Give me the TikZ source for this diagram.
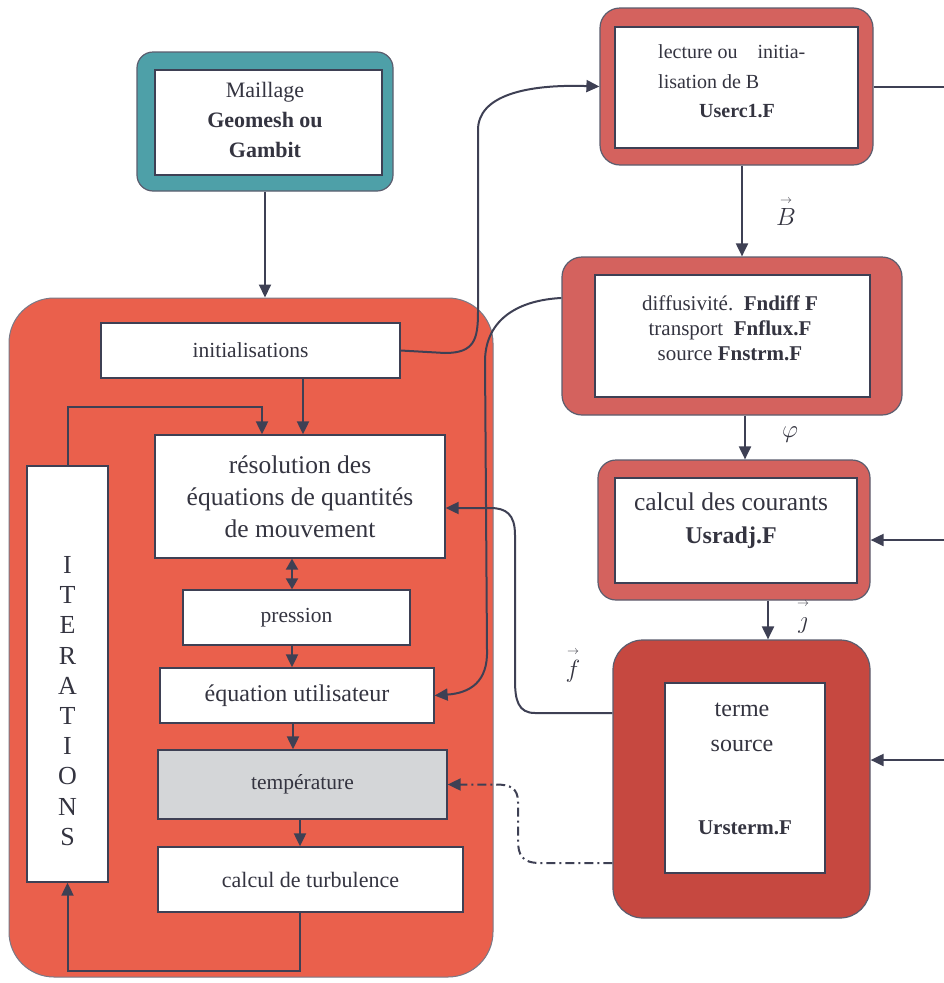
\documentclass[tikz,border=0pt]{standalone}
\usepackage{amsmath}
\usepackage{fontspec}
\setmainfont{Liberation Serif}
\usetikzlibrary{arrows.meta,calc}
\definecolor{tealc}{RGB}{78,160,168}
\definecolor{mainred}{RGB}{234,96,76}
\definecolor{framered}{RGB}{212,98,94}
\definecolor{darkred}{RGB}{198,72,64}
\definecolor{lnc}{RGB}{62,64,84}
\definecolor{tempgray}{RGB}{212,214,216}
\definecolor{txt}{RGB}{52,52,64}
\tikzset{
  wbox/.style={draw=lnc, line width=1.3pt, fill=white, inner sep=0pt, text=txt},
  frm/.style={draw=lnc!85, line width=1.2pt, rounded corners=16pt, inner sep=0pt},
  conn/.style={draw=lnc, line width=2pt},
  arr/.style={conn, -{Triangle[length=13pt,width=12pt]}},
  dblarr/.style={conn, {Triangle[length=11pt,width=12pt]}-{Triangle[length=11pt,width=12pt]}},
  dashdotline/.style={conn, dash pattern=on 9pt off 4pt on 2pt off 4pt, -{Triangle[length=13pt,width=12pt]}},
  lbl/.style={inner sep=0pt, text=txt},
}
\newcommand{\fs}[2]{\fontsize{#1}{#2}\selectfont}
\newcommand{\vecl}[1]{\overset{\scriptscriptstyle\rightarrow}{#1}}
\begin{document}
\begin{tikzpicture}[x=1pt,y=-1pt]
\useasboundingbox (0,0) rectangle (943,983);
\fill[white] (0,0) rectangle (943,983);

% Maillage
\node[frm, fill=tealc, minimum width=256pt, minimum height=139pt] (maillF) at (265,121.5) {};
\node[wbox, minimum width=227pt, minimum height=105pt] (maill) at (268.5,122.5) {};
\node[lbl, align=center, font=\fs{22}{30}] (mailltxt) at (265,120) {Maillage\\\textbf{Geomesh ou}\\\textbf{Gambit}};

% main box
\node[draw=lnc!70, line width=1pt, fill=mainred, rounded corners=45pt, minimum width=484pt, minimum height=679pt, inner sep=0pt] (mainbox) at (251,637.5) {};

\node[wbox, minimum width=299pt, minimum height=55pt, font=\fs{21.5}{24}] (init) at (250.5,350.5) {initialisations};
\node[wbox, minimum width=290pt, minimum height=123pt, align=center, font=\fs{25.5}{32}] (reso) at (300,496.5) {résolution des\\équations de quantités\\de mouvement};
\node[wbox, minimum width=81pt, minimum height=416pt] (iter) at (67.5,674) {};
\node[lbl, align=center, font=\fs{26}{30.2}] (itertxt) at (67.5,701) {I\\T\\E\\R\\A\\T\\I\\O\\N\\S};
\node[wbox, minimum width=227pt, minimum height=55pt, font=\fs{21.5}{24}] (press) at (296.5,617.5) {pression};
\node[wbox, minimum width=274pt, minimum height=55pt, font=\fs{24}{24}] (equ) at (297,695.5) {équation utilisateur};
\node[wbox, fill=tempgray, minimum width=289pt, minimum height=69pt, font=\fs{21.5}{24}] (temp) at (302.5,784.5) {température};
\node[wbox, minimum width=305pt, minimum height=65pt, font=\fs{22}{24}] (turb) at (310.5,879.5) {calcul de turbulence};

% right column
\node[frm, fill=framered, rounded corners=20pt, minimum width=273pt, minimum height=157pt] (lectF) at (736.5,86.5) {};
\node[wbox, minimum width=243pt, minimum height=121pt] (lect) at (736.5,87.5) {};
\node[lbl, anchor=west, font=\fs{20}{24}] (lect1) at (658,52) {lecture ou\quad initia-};
\node[lbl, anchor=west, font=\fs{20}{24}] (lect2) at (658,82) {lisation de B};
\node[lbl, font=\fs{20}{24}] (lect3) at (737,111) {\textbf{Userc1.F}};

\node[frm, fill=framered, rounded corners=20pt, minimum width=340pt, minimum height=158pt] (diffF) at (732,336) {};
\node[wbox, minimum width=275pt, minimum height=122pt] (diff) at (732.5,336) {};
\node[lbl, align=center, font=\fs{21}{25}] (difftxt) at (730,328) {diffusivité.\ \ \textbf{Fndiff F}\\transport\ \ \textbf{Fnflux.F}\\source\ \textbf{Fnstrm.F}};

\node[frm, fill=framered, rounded corners=18pt, minimum width=272pt, minimum height=140pt] (courF) at (734,530) {};
\node[wbox, minimum width=242pt, minimum height=105pt] (cour) at (736,530.5) {};
\node[lbl, align=center, font=\fs{25.5}{33}] (courtxt) at (731,521) {calcul des courants\\\fs{24}{33}\textbf{Usradj.F}};

\node[frm, fill=darkred, rounded corners=30pt, minimum width=257pt, minimum height=278pt] (termF) at (741.5,779) {};
\node[wbox, minimum width=160pt, minimum height=190pt] (term) at (745,778) {};
\node[lbl, align=center, font=\fs{24}{35}] (termtxt) at (742,727) {terme\\source};
\node[lbl, font=\fs{21}{24}] (termtxt2) at (745,828) {\textbf{Ursterm.F}};

% vector labels
\node[lbl, font=\fs{24}{24}] (labB) at (786,211) {$\vecl{B}$};
\node[lbl, font=\fs{24}{24}] (labphi) at (790,435) {$\varphi$};
\node[lbl, font=\fs{24}{24}] (labj) at (803,616) {$\vecl{\vphantom{B}\jmath}$};
\node[lbl, font=\fs{24}{24}] (labf) at (573,665) {$\vecl{f}$};

% connectors in main box
\draw[arr] (maillF.south) -- (maillF.south |- mainbox.north);
\draw[arr] ([xshift=52.5pt]init.south) -- ([xshift=3pt]reso.north);
\draw[arr] (iter.north) |- ([xshift=-38pt,yshift=27pt]reso.north) -- ([xshift=-38pt]reso.north);
\draw[dblarr] ([xshift=-8pt]reso.south) -- ([xshift=-8pt]reso.south |- press.north);
\draw[arr] ([xshift=-4.5pt]press.south) -- ([xshift=-4.5pt]press.south |- equ.north);
\draw[arr] ([xshift=-4pt]equ.south) -- ([xshift=-4pt]equ.south |- temp.north);
\draw[arr] ([xshift=-2.5pt]temp.south) -- ([xshift=-2.5pt]temp.south |- turb.north);
\draw[arr] ([xshift=-10.5pt]turb.south) -- ++(0,58) -| (iter.south);

% curved connectors
\draw[arr] (init.east) -- (445,353) .. controls (474,353) and (478,340) .. (478,312) -- (478,130) .. controls (478,96) and (525,84) .. (lectF.west);
\draw[arr] ([yshift=38pt]diffF.west) .. controls (520,300) and (486,318) .. (485,360) -- (487,650) .. controls (488,682) and (470,693) .. (equ.east);
\draw[arr] ([yshift=66pt]termF.west) -- (535,713) .. controls (518,713) and (515,700) .. (515,680) -- (515,535) .. controls (515,514) and (506,508) .. (490,508) -- ([yshift=-11.5pt]reso.east);
\draw[dashdotline] ([yshift=-84pt]termF.west) -- (540,863) .. controls (522,863) and (518,855) .. (518,840) -- (518,802) .. controls (518,788) and (510,784.5) .. (496,784.5) -- (temp.east);

% right column connectors
\draw[arr] ([xshift=5.5pt]lectF.south) -- ([xshift=5.5pt]lectF.south |- diffF.north);
\draw[arr] ([xshift=13pt]diffF.south) -- ([xshift=13pt]diffF.south |- courF.north);
\draw[arr] ([xshift=34pt]courF.south) -- ([xshift=34pt]courF.south |- termF.north);

\coordinate (rtop) at (960,86.5);
\coordinate (rbot) at (960,760);
\draw[conn] (lectF.east) -- (rtop) -- (rbot);
\draw[arr] (960,540) -- ([yshift=-10pt]courF.east);
\draw[arr] (rbot) -- ([yshift=19pt]termF.east);
\end{tikzpicture}
\end{document}
